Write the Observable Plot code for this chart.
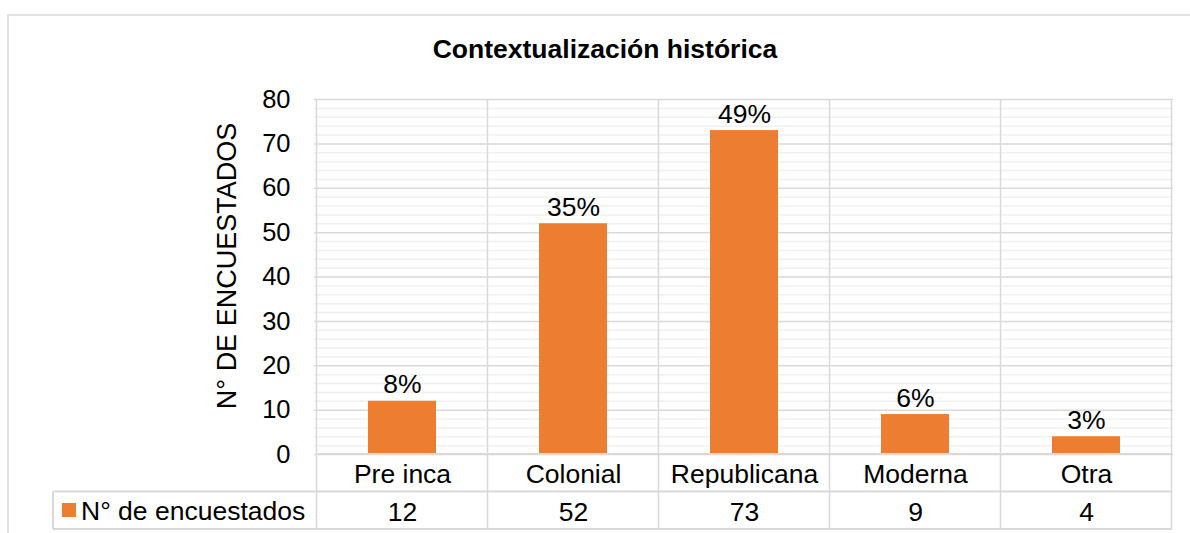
<!DOCTYPE html>
<html>
<head>
<meta charset="utf-8">
<script src="https://cdn.jsdelivr.net/npm/d3@7"></script>
<script src="https://cdn.jsdelivr.net/npm/@observablehq/plot@0.6"></script>
<style>
  html, body { margin: 0; padding: 0; background: #fff; }
  #chart svg { display: block; font-family: "Liberation Sans", Arial, sans-serif; }
</style>
</head>
<body>
<div id="chart"></div>
<script>
const title = "Contextualización histórica";
const yLabel = "N° DE ENCUESTADOS";
const seriesName = "N° de encuestados";
const categories = ["Pre inca", "Colonial", "Republicana", "Moderna", "Otra"];
const values = [12, 52, 73, 9, 4];
const percentLabels = ["8%", "35%", "49%", "6%", "3%"];
const yTicks = [0, 10, 20, 30, 40, 50, 60, 70, 80];
const yMinorTicks = [2,4,6,8,12,14,16,18,22,24,26,28,32,34,36,38,42,44,46,48,52,54,56,58,62,64,66,68,72,74,76,78];

const data = categories.map((c, i) => ({category: c, value: values[i], pct: percentLabels[i]}));

const W = 1190, H = 533;
const FONT = "Liberation Sans, Arial, sans-serif";
const FS = 26.5;
const orange = "#ED7D31";
const gridMajor = "#d9d9d9";
const gridMinor = "#f0f0f0";

const plot = Plot.plot({
  width: W,
  height: H,
  marginLeft: 314,
  marginRight: 17,
  marginTop: 99,
  marginBottom: 79,
  style: {fontFamily: FONT, fontSize: FS + "px", color: "#000", background: "#fff", overflow: "visible"},
  x: {domain: categories, paddingInner: 0.604, paddingOuter: 0.302, axis: null},
  y: {domain: [0, 80], ticks: yTicks, label: null, tickSize: 0, tickPadding: 24},
  marks: [
    Plot.ruleY(yMinorTicks, {stroke: gridMinor, strokeWidth: 1.5}),
    Plot.ruleY(yTicks, {stroke: gridMajor, strokeWidth: 1.5}),
    Plot.axisY({ticks: yTicks, tickSize: 0, tickPadding: 24, label: null, fontSize: 25.5}),
    Plot.barY(data, {x: "category", y: "value", fill: orange}),
    Plot.text(data, {x: "category", y: "value", text: "pct", lineAnchor: "bottom", dy: -8, fontSize: FS, fill: "#000"}),
    Plot.text(data, {x: "category", frameAnchor: "bottom", text: "category", lineAnchor: "bottom", dy: 28, fontSize: FS, fill: "#000"}),
    Plot.text(data, {x: "category", frameAnchor: "bottom", text: d => String(d.value), lineAnchor: "bottom", dy: 66, fontSize: FS, fill: "#000"})
  ]
});

document.getElementById("chart").appendChild(plot);

// Decorations: chart frame, vertical category gridlines, data table grid, legend, title, axis title
const svg = d3.select(plot);
const xs = plot.scale("x");
const ys = plot.scale("y");
const step = xs.step;
const gap = (step - xs.bandwidth) / 2;
const left = xs.apply(categories[0]) - gap;
const right = left + step * categories.length;
const yTop = ys.apply(80);
const y0 = ys.apply(0);
const row1 = y0 + 37.5;
const row2 = y0 + 75;

const under = svg.insert("g", ":first-child");
under.append("rect").attr("x", 8).attr("y", 15).attr("width", 1300).attr("height", 700)
  .attr("fill", "#fff").attr("stroke", gridMajor).attr("stroke-width", 1.5);

const grid = svg.insert("g", "g[aria-label='bar']");
const bounds = d3.range(categories.length + 1).map(i => left + i * step);
grid.selectAll("line.v").data(bounds).join("line")
  .attr("x1", d => d).attr("x2", d => d)
  .attr("y1", yTop).attr("y2", row2)
  .attr("stroke", gridMajor).attr("stroke-width", 1.5);

const table = svg.append("g").attr("stroke", gridMajor).attr("stroke-width", 2);
table.append("line").attr("x1", left).attr("x2", right).attr("y1", y0).attr("y2", y0);
table.append("line").attr("x1", 53).attr("x2", right).attr("y1", row1).attr("y2", row1);
table.append("line").attr("x1", 53).attr("x2", right).attr("y1", row2).attr("y2", row2);
table.append("line").attr("x1", 53).attr("x2", 53).attr("y1", row1).attr("y2", row2);

svg.append("rect").attr("x", 62).attr("y", 503).attr("width", 14).attr("height", 14).attr("fill", orange);
svg.append("text").attr("x", 81).attr("y", row1 + 28.5).attr("font-size", FS).attr("fill", "#000")
  .attr("text-anchor", "start").attr("font-family", FONT).text(seriesName);

svg.append("text").attr("x", 605).attr("y", 58).attr("text-anchor", "middle")
  .attr("font-size", 26.5).attr("font-weight", "bold").attr("fill", "#000")
  .attr("font-family", FONT).text(title);

svg.append("text").attr("transform", `translate(236,266) rotate(-90)`)
  .attr("text-anchor", "middle").attr("font-size", 27).attr("fill", "#000")
  .attr("font-family", FONT).text(yLabel);
</script>
</body>
</html>
